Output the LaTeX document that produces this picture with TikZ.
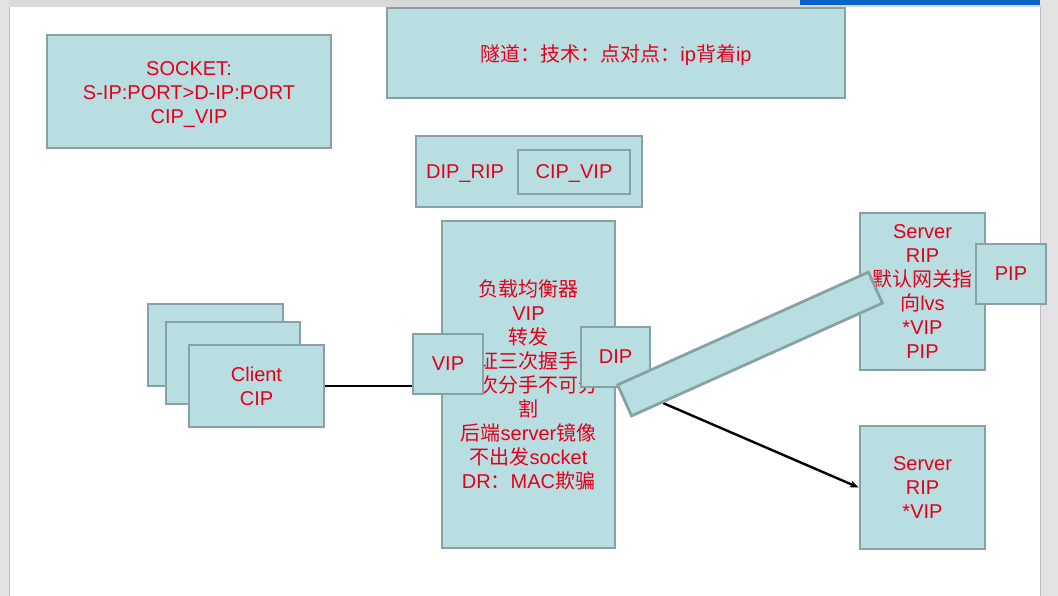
\documentclass[tikz,border=0pt]{standalone}
\usepackage{fontspec}
\setmainfont{Liberation Sans}
\newfontfamily\cjk{Noto Sans CJK SC}
\newcommand\zh[1]{{\cjk #1}}
\usetikzlibrary{arrows.meta,positioning,calc}
\definecolor{boxfill}{HTML}{B9DEE2}
\definecolor{boxline}{HTML}{86A2A6}
\definecolor{txtred}{HTML}{E2001A}
\definecolor{barblue}{HTML}{0A64C8}

\begin{document}
\begin{tikzpicture}[x=1pt, y=-1pt, >={Stealth[length=9pt, width=7pt]},
  font=\fontsize{20}{24}\selectfont,
  pane/.style={draw=boxline, fill=boxfill, line width=2.8pt, inner sep=0pt,
    text=txtred, align=center},
  lbl/.style={text=txtred, inner sep=0pt},
  link/.style={line width=2.4pt}]
  \useasboundingbox (0,0) rectangle (1058,596);
  \fill[white] (0,0) rectangle (1058,596);
  \fill[black!15] (0,0) rectangle (1058,7);
  \fill[black!11] (0,0) rectangle (9,596);
  \fill[black!11] (1040,0) rectangle (1058,596);
  \draw[black!25] (9.5,7) -- (9.5,596);
  \draw[black!25] (1040.5,7) -- (1040.5,596);
  \fill[barblue] (800,0) rectangle (1040,5);

  \node[pane, minimum width=284pt, minimum height=113pt] (sock) at (189,91.5) {};
  \node[lbl, align=center] (socktxt) at (189,94.5) {SOCKET:\\S-IP:PORT>D-IP:PORT\\CIP\_VIP};
  \node[pane, minimum width=458pt, minimum height=90pt] (tun) at (616,53) {};
  \node[lbl] (tuntxt) at (616,55) {\zh{隧道：技术：点对点：}ip\zh{背着}ip};
  \node[pane, minimum width=226pt, minimum height=71pt] (encap) at (529,171.5) {};
  \node[pane, minimum width=112pt, minimum height=44pt] (inner) at (574,172) {};
  \node[lbl] (innertxt) at (574,174) {CIP\_VIP};
  \node[lbl] (outer) at (465,174) {DIP\_RIP};

  \node[pane, minimum width=173pt, minimum height=327pt] (lb) at (528.5,384.5)
    {\zh{负载均衡器}\\VIP\\\zh{转发}\\\zh{证三次握手}\\\zh{\hphantom{四}次分手不可分}\\\zh{割}\\
     \zh{后端}server\zh{镜像}\\\zh{不出发}socket\\DR\zh{：}MAC\zh{欺骗}};
  \node[pane, minimum width=70pt, minimum height=60pt] (vip) at (448,364) {VIP};
  \node[pane, minimum width=69pt, minimum height=60pt] (dip) at (615.5,357) {DIP};

  \node[pane, minimum width=135pt, minimum height=82pt] (cl3) at (215.5,345) {};
  \node[pane, minimum width=134pt, minimum height=82pt] (cl2) at (233,363) {};
  \node[pane, minimum width=135pt, minimum height=82pt] (cl1) at (256.5,386) {Client\\CIP};

  \node[pane, minimum width=125pt, minimum height=157pt] (s1) at (922.5,291.5)
    {Server\\RIP\\\zh{默认网关指}\\\zh{向}lvs\\*VIP\\PIP};
  \node[pane, minimum width=125pt, minimum height=123pt] (s2) at (922.5,487.5)
    {Server\\RIP\\*VIP};

  \draw[link] (cl1.east) -- (cl1.east -| vip.west);
  \coordinate (tail) at (663,403);
  \draw[link, ->] (tail) -- (s2.west);

  \node[pane, minimum width=275pt, minimum height=34pt, rotate=24.2] (bar) at (750,344) {};
  \node[pane, minimum width=70pt, minimum height=60pt] (pip) at (1011,274) {PIP};
\end{tikzpicture}
\end{document}
